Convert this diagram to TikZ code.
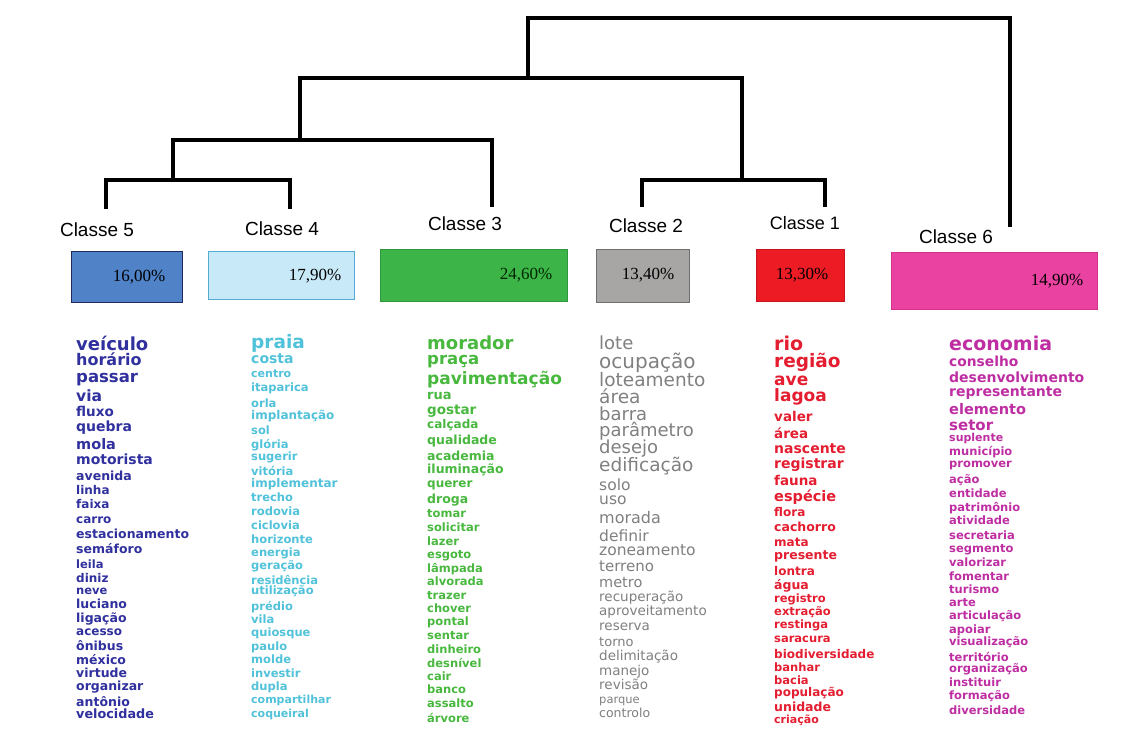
\documentclass[tikz,border=0pt]{standalone}
\usepackage{fontspec}
\setmainfont{Liberation Sans}
\newfontfamily\wordfont{DejaVu Sans}
\newfontfamily\pctfont{Liberation Serif}
\definecolor{cNavy}{RGB}{48,48,158}
\definecolor{cCyan}{RGB}{80,194,218}
\definecolor{cGreen}{RGB}{72,184,62}
\definecolor{cGray}{RGB}{128,128,128}
\definecolor{cRed}{RGB}{228,30,48}
\definecolor{cMag}{RGB}{190,46,162}
\definecolor{fBlue}{RGB}{80,130,200}
\definecolor{eBlue}{RGB}{32,40,92}
\definecolor{fLight}{RGB}{200,233,248}
\definecolor{eLight}{RGB}{84,172,212}
\definecolor{fGreen}{RGB}{60,180,72}
\definecolor{eGreen}{RGB}{50,150,60}
\definecolor{fGray}{RGB}{168,165,165}
\definecolor{eGray}{RGB}{110,110,110}
\definecolor{fRed}{RGB}{237,28,36}
\definecolor{eRed}{RGB}{200,20,30}
\definecolor{fMag}{RGB}{233,66,160}
\definecolor{eMag}{RGB}{210,50,140}
\begin{document}
\begin{tikzpicture}[x=1pt,y=-1pt,
  dend/.style={line width=3.6pt, line cap=rect, line join=miter},
  cls/.style={font=\fontsize{19}{19}\selectfont, inner sep=0},
  pbox/.style={draw, line width=1pt, anchor=north west, inner sep=0},
  pct/.style={font=\pctfont\fontsize{17}{17}\selectfont, inner sep=0}]
\useasboundingbox (0,0) rectangle (1132,749);
\fill[white] (0,0) rectangle (1132,749);

% class labels
\node[cls] (l5) at (97,230) {Classe 5};
\node[cls] (l4) at (282,229) {Classe 4};
\node[cls] (l3) at (465,224) {Classe 3};
\node[cls] (l2) at (646,226) {Classe 2};
\node[cls, font=\fontsize{18}{18}\selectfont] (l1) at (805,223) {Classe 1};
\node[cls] (l6) at (956,237) {Classe 6};

% dendrogram
\coordinate (t5) at (106,207);
\coordinate (t4) at (290,207);
\coordinate (t3) at (492,205);
\coordinate (t2) at (642,205);
\coordinate (t1) at (825,205);
\coordinate (t6) at (1010,225);
\coordinate (j54) at (173,180);
\coordinate (j543) at (300,140);
\coordinate (j21) at (742,180);
\coordinate (j5to1) at (528,78);
\coordinate (root) at (1010,18);
\draw[dend] (t5) |- (j54) -| (t4);
\draw[dend] (j54) |- (j543) -| (t3);
\draw[dend] (t2) |- (j21) -| (t1);
\draw[dend] (j543) |- (j5to1) -| (j21);
\draw[dend] (j5to1) |- (root) -- (t6);

% percentage boxes
\node[pbox, fill=fBlue, draw=eBlue, minimum width=111pt, minimum height=51pt] (b5) at (71,251) {};
\node[pbox, fill=fLight, draw=eLight, minimum width=146pt, minimum height=48pt] (b4) at (208,251) {};
\node[pbox, fill=fGreen, draw=eGreen, minimum width=187pt, minimum height=52pt] (b3) at (380,249) {};
\node[pbox, fill=fGray, draw=eGray, minimum width=93pt, minimum height=53pt] (b2) at (596,249) {};
\node[pbox, fill=fRed, draw=eRed, minimum width=88pt, minimum height=52pt] (b1) at (756,249) {};
\node[pbox, fill=fMag, draw=eMag, minimum width=206pt, minimum height=57pt] (b6) at (891,252) {};
\node[pct] (p5) at (139,277) {16,00\%};
\node[pct] (p4) at (315,276) {17,90\%};
\node[pct, text={black!85!green}] (p3) at (526,275) {24,60\%};
\node[pct] (p2) at (648,275) {13,40\%};
\node[pct] (p1) at (802,275) {13,30\%};
\node[pct] (p6) at (1057,281) {14,90\%};

% word lists
\foreach \w/\y/\s [count=\i] in {veículo/345/18, horário/361/16, passar/377.5/16.5, via/397/15.5, fluxo/413/13.5, quebra/428/14, mola/445/14.5, motorista/461/14, avenida/477/12.5, linha/491/12, faixa/505/12, carro/520/12, estacionamento/535/12.5, semáforo/550/12.5, leila/565/11.5, diniz/579/12, neve/591/11.5, luciano/605/12.5, ligação/619/12.5, acesso/632/12, ônibus/647/12.5, méxico/661/12.5, virtude/674/12.5, organizar/687/12.5, antônio/703/12.5, velocidade/715/12.8}
  \node[anchor=base west, inner sep=0, text=cNavy, font=\wordfont\bfseries\fontsize{\s}{\s}\selectfont] (c5w\i) at (76,{\y+0.28*\s}) {\w};

\foreach \w/\y/\s [count=\i] in {praia/343/18.5, costa/360/14, centro/374/11, itaparica/388/11.5, orla/404/11.5, implantação/416/12, sol/431/11.5, glória/445/11.5, sugerir/457/11.5, vitória/472/11.5, implementar/484/12, trecho/498/11.5, rodovia/512/11.5, ciclovia/526/11.5, horizonte/540/11.5, energia/553/11.5, geração/566/11.5, residência/581/11.5, utilização/591/11.5, prédio/607/11.5, vila/620/11.5, quiosque/633/11.5, paulo/647/11.5, molde/660/11.5, investir/674/11.5, dupla/687/11.5, compartilhar/700/11, coqueiral/714/11}
  \node[anchor=base west, inner sep=0, text=cCyan, font=\wordfont\bfseries\fontsize{\s}{\s}\selectfont] (c4w\i) at (251,{\y+0.28*\s}) {\w};

\foreach \w/\y/\s [count=\i] in {morador/344/18, praça/360/16.5, pavimentação/380/17, rua/396/13, gostar/411/13.5, calçada/425/12, qualidade/441/12.5, academia/457/12.5, iluminação/470/12.5, querer/484/12, droga/500/12.5, tomar/514/11.5, solicitar/528/11.5, lazer/542/11.5, esgoto/555/11.5, lâmpada/569/11.5, alvorada/582/11.5, trazer/596/11.5, chover/609/11.5, pontal/622/11.5, sentar/636/11.5, dinheiro/650/11.5, desnível/664/11.5, cair/677/11.5, banco/690/11.5, assalto/704/11.5, árvore/719/11.5}
  \node[anchor=base west, inner sep=0, text=cGreen, font=\wordfont\bfseries\fontsize{\s}{\s}\selectfont] (c3w\i) at (427,{\y+0.28*\s}) {\w};

\foreach \w/\y/\s [count=\i] in {lote/344/18, ocupação/363/20, loteamento/381/18.5, área/398/18.5, barra/415/18, parâmetro/431/18, desejo/448/18, edificação/466/18.5, solo/486/15.5, uso/500/15.5, morada/519/16, definir/537/15.5, zoneamento/551/15.5, terreno/567/15, metro/583/14.5, recuperação/598/13.5, aproveitamento/612/13.5, reserva/627/13.5, torno/643/13, delimitação/657/13.5, manejo/672/13.5, revisão/686/13.5, parque/700/11.5, controlo/714/12.5}
  \node[anchor=base west, inner sep=0, text=cGray, font=\wordfont\fontsize{\s}{\s}\selectfont] (c2w\i) at (599,{\y+0.28*\s}) {\w};

\foreach \w/\y/\s [count=\i] in {rio/345/19, região/362/18.5, ave/381/17, lagoa/397/17, valer/418/13.5, área/435/13.5, nascente/450/14, registrar/465/14, fauna/482/13.5, espécie/497/14.5, flora/513/12, cachorro/528/12.5, mata/543/12, presente/556/12.5, lontra/572/12, água/586/12.5, registro/599/11.5, extração/612/11.5, restinga/625/11.5, saracura/639/11.5, biodiversidade/655/12, banhar/668/11.5, bacia/681/11.5, população/693/12, unidade/708/12.5, criação/720/11}
  \node[anchor=base west, inner sep=0, text=cRed, font=\wordfont\bfseries\fontsize{\s}{\s}\selectfont] (c1w\i) at (774,{\y+0.28*\s}) {\w};

\foreach \w/\y/\s [count=\i] in {economia/345/19, conselho/363/13.8, desenvolvimento/379/14, representante/393/14, elemento/410/14.5, setor/426/15, suplente/438/11, município/452/11.5, promover/464/11.5, ação/480/11.5, entidade/494/11.5, patrimônio/508/11.5, atividade/521/11.5, secretaria/536/11.5, segmento/549/11.5, valorizar/563/11.5, fomentar/577/11.5, turismo/590/11.5, arte/603/11.5, articulação/616/11.5, apoiar/630/11.5, visualização/642/11.5, território/658/11.5, organização/669/11.5, instituir/683/11.5, formação/696/11.5, diversidade/711/11.5}
  \node[anchor=base west, inner sep=0, text=cMag, font=\wordfont\bfseries\fontsize{\s}{\s}\selectfont] (c6w\i) at (949,{\y+0.28*\s}) {\w};
\end{tikzpicture}
\end{document}
